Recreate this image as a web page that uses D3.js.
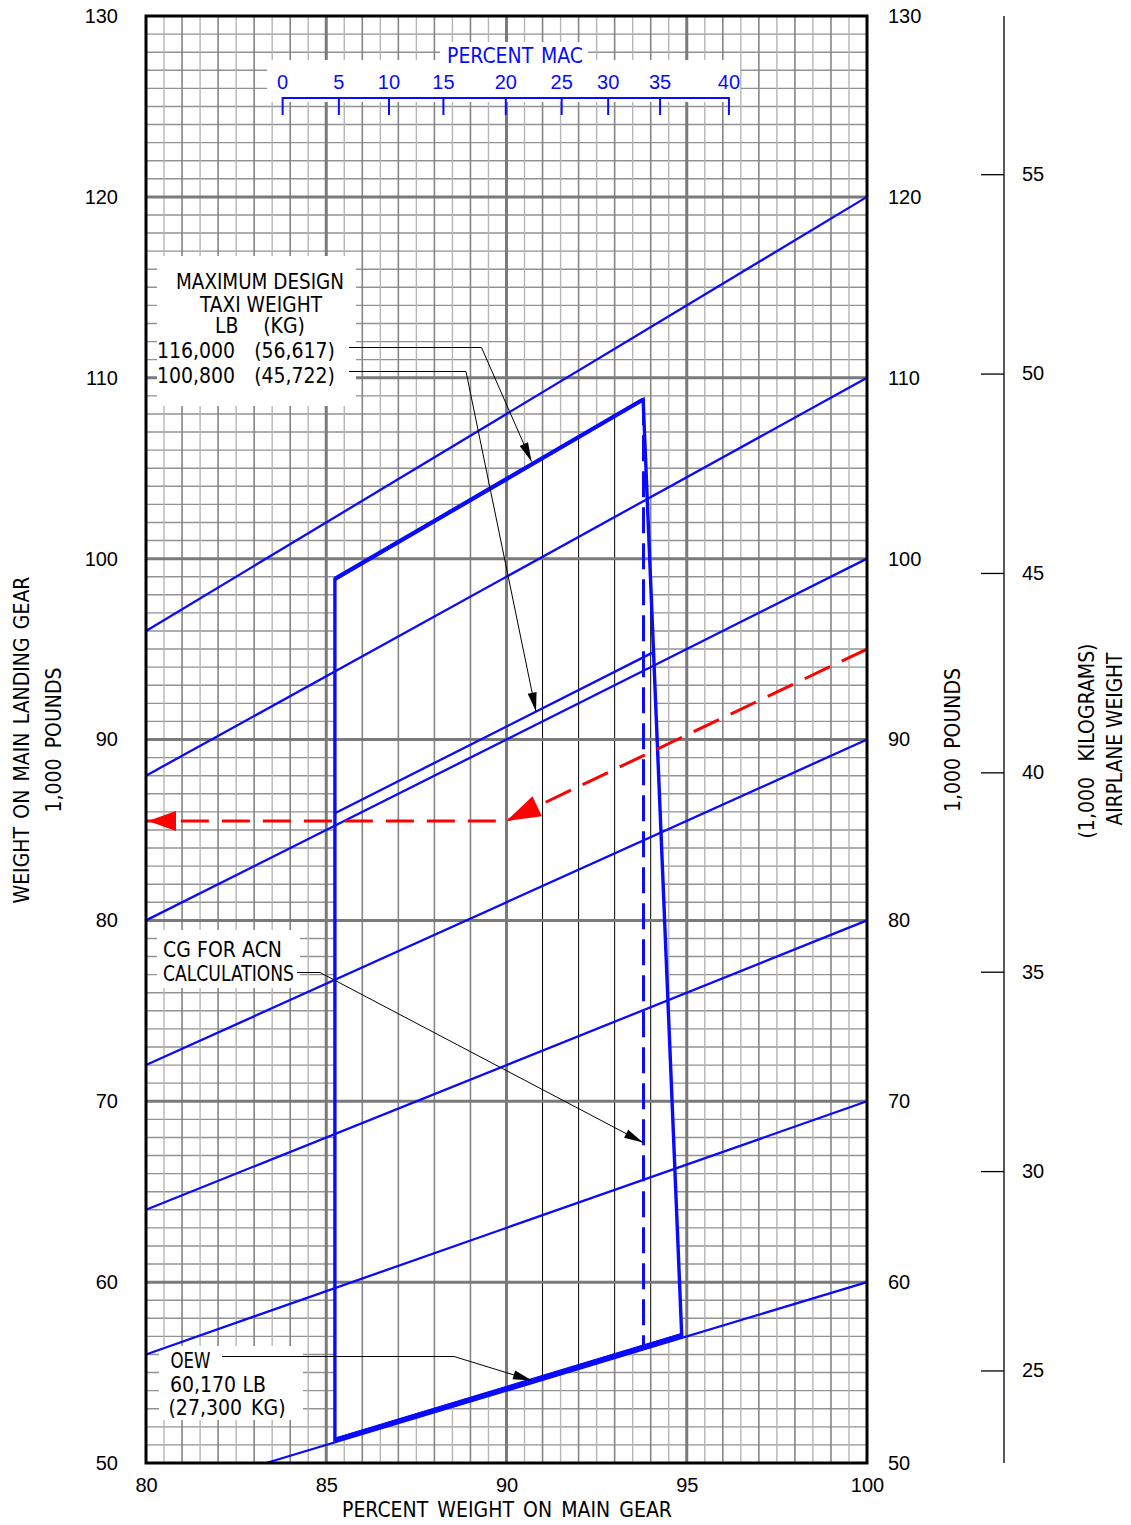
<!DOCTYPE html>
<html><head><meta charset="utf-8">
<script src="https://cdn.jsdelivr.net/npm/d3@7"></script>
<style>
body{margin:0;background:#fff;}
svg text{font-family:"Liberation Sans","DejaVu Sans",sans-serif;font-size:20px;fill:#000;}
svg text.lbl{font-family:"Liberation Sans Narrow","DejaVu Sans Condensed","Liberation Sans",sans-serif;font-size:21px;}
</style></head><body>
<svg id="chart" width="1131" height="1525"></svg>
<script>
// ---------- data ----------
const xTicks = [80, 85, 90, 95, 100];
const yTicks = [50, 60, 70, 80, 90, 100, 110, 120, 130];
const kgTicks = [25, 30, 35, 40, 45, 50, 55];
const airplaneWeights = [60, 70, 80, 90, 100, 110, 120];   // 1,000 lb
const taxiWeights = [116.0, 100.8];                          // 1,000 lb
const oewWeight = 60.17;                                     // 1,000 lb
const fwdLimit = 85.24;       // % on main gear
const aftLimitTop = 93.79;    // at 116,000 lb
const aftLimitOEW = 94.86;    // at OEW
const acnCG = 93.8;
const exampleWeight = 95;     // red example
const exampleCG = 90;
const macValues = [0, 5, 10, 15, 20, 25, 30, 35, 40];
const macPosition = [83.79, 85.35, 86.74, 88.25, 89.98, 91.53, 92.82, 94.26, 96.17];
const innerGray = [86, 87, 88, 89];
const innerBlack = [91, 92, 93, 94];
const LB_PER_KG = 2.20462;

// ---------- setup ----------
const svg = d3.select("#chart");
const L = 146, R = 867, T = 16, B = 1463;
const x = d3.scaleLinear().domain([80, 100]).range([L, R]);
const y = d3.scaleLinear().domain([50, 130]).range([B, T]);
const yKg = d3.scaleLinear().domain([50 / LB_PER_KG, 130 / LB_PER_KG]).range([B, T]);
const BLUE = "#0a0aff", RED = "#ff0000";
const line = d3.line().x(d => x(d[0])).y(d => y(d[1]));

// ---------- grid ----------
const grid = svg.append("g");
d3.range(51, 130, 1).forEach(v => {
  if (v % 10 === 0) return;
  grid.append("line").attr("x1", L).attr("x2", R).attr("y1", y(v)).attr("y2", y(v))
    .attr("stroke", "#929292").attr("stroke-width", 1.4);
});
d3.range(80.5, 100, 0.5).forEach(v => {
  if (v % 5 === 0) return;
  const isInt = Number.isInteger(v);
  grid.append("line").attr("x1", x(v)).attr("x2", x(v)).attr("y1", T).attr("y2", B)
    .attr("stroke", isInt ? "#858585" : "#b5b5b5").attr("stroke-width", isInt ? 1.6 : 1.4);
});

// envelope white fill
const envelope = [
  [fwdLimit, fwdLimit * oewWeight / 100],
  [fwdLimit, fwdLimit * taxiWeights[0] / 100],
  [aftLimitTop, aftLimitTop * taxiWeights[0] / 100],
  [aftLimitOEW, aftLimitOEW * oewWeight / 100]
];
svg.append("defs").append("clipPath").attr("id", "envClip")
  .append("path").attr("d", line(envelope) + "Z");
svg.append("path").attr("d", line(envelope) + "Z").attr("fill", "#fff");

const inner = svg.append("g").attr("clip-path", "url(#envClip)");
innerGray.forEach(v => inner.append("line").attr("x1", x(v)).attr("x2", x(v)).attr("y1", T).attr("y2", B)
  .attr("stroke", "#858585").attr("stroke-width", 1.6));
innerBlack.forEach(v => inner.append("line").attr("x1", x(v)).attr("x2", x(v)).attr("y1", T).attr("y2", B)
  .attr("stroke", "#000").attr("stroke-width", 1));

// major grid
const major = svg.append("g");
d3.range(60, 130, 10).forEach(v => major.append("line").attr("x1", L).attr("x2", R)
  .attr("y1", y(v)).attr("y2", y(v)).attr("stroke", "#7a7a7a").attr("stroke-width", 3));
[85, 90, 95].forEach(v => major.append("line").attr("x1", x(v)).attr("x2", x(v))
  .attr("y1", T).attr("y2", B).attr("stroke", "#7a7a7a").attr("stroke-width", 3));

// white label boxes
const boxes = [[157, 256, 356, 406], [440, 42, 588, 62], [267, 60, 740, 102], [157, 930, 300, 988], [159, 1346, 303, 1420]];
boxes.forEach(b => svg.append("rect").attr("x", b[0]).attr("y", b[1]).attr("width", b[2] - b[0])
  .attr("height", b[3] - b[1]).attr("fill", "#fff"));

// ---------- blue weight lines ----------
const lines = svg.append("g").attr("fill", "none").attr("stroke", BLUE);
airplaneWeights.forEach(W => {
  const x0 = Math.max(80, 5000 / W);
  lines.append("path").attr("d", line([[x0, x0 * W / 100], [100, W]])).attr("stroke-width", 2.3);
});
function edgeX(W) {
  const [p1, p2] = [envelope[2], envelope[3]];
  const dx = p2[0] - p1[0], dy = p2[1] - p1[1];
  const t = (p1[0] * W / 100 - p1[1]) / (dy - dx * W / 100);
  return p1[0] + t * dx;
}
const xe = edgeX(taxiWeights[1]);
lines.append("path").attr("d", line([[fwdLimit, fwdLimit * taxiWeights[1] / 100], [xe, xe * taxiWeights[1] / 100]]))
  .attr("stroke-width", 2.3);
// envelope
lines.append("path").attr("d", line(envelope) + "Z").attr("stroke-width", 3.4).attr("stroke-linejoin", "miter");
lines.append("path").attr("d", line([envelope[1], envelope[2]])).attr("stroke-width", 4.2);
lines.append("path").attr("d", line([envelope[0], envelope[3]])).attr("stroke-width", 4.2);
// CG for ACN dashed
lines.append("path").attr("d", line([[acnCG, acnCG * taxiWeights[0] / 100], [acnCG, acnCG * oewWeight / 100]]))
  .attr("stroke-width", 3).attr("stroke-dasharray", "26,10");

// ---------- red example ----------
const red = svg.append("g");
const redPts = [[100, exampleWeight], [exampleCG, exampleCG * exampleWeight / 100], [80, exampleCG * exampleWeight / 100]];
red.append("path").attr("d", line(redPts)).attr("fill", "none").attr("stroke", RED)
  .attr("stroke-width", 3).attr("stroke-dasharray", "28,13");
function arrowHead(g, tip, from, len, hw, color) {
  const dx = tip[0] - from[0], dy = tip[1] - from[1];
  const d = Math.hypot(dx, dy), ux = dx / d, uy = dy / d;
  const bx = tip[0] - ux * len, by = tip[1] - uy * len;
  g.append("path").attr("d", `M${tip[0]},${tip[1]}L${bx - uy * hw},${by + ux * hw}L${bx + uy * hw},${by - ux * hw}Z`)
    .attr("fill", color).attr("stroke", "none");
}
arrowHead(red, [x(redPts[1][0]), y(redPts[1][1])], [x(redPts[0][0]), y(redPts[0][1])], 34, 11, RED);
arrowHead(red, [x(80) + 2, y(redPts[2][1])], [x(90), y(redPts[2][1])], 28, 10, RED);

// ---------- leaders ----------
const lead = svg.append("g");
const leaders = [
  [[349, 347.5], [481.5, 347.5], [531.5, 461.5]],
  [[349, 371.5], [466, 371.5], [536, 711.5]],
  [[297, 972.5], [320, 972.5], [643, 1142.5]],
  [[222, 1356.5], [454, 1356.5], [532, 1380.5]]
];
leaders.forEach(p => {
  lead.append("path").attr("d", d3.line()(p)).attr("fill", "none").attr("stroke", "#000").attr("stroke-width", 1);
  arrowHead(lead, p[2], p[1], 19, 4.5, "#000");
});

// ---------- frame ----------
svg.append("rect").attr("x", L).attr("y", T).attr("width", R - L).attr("height", B - T)
  .attr("fill", "none").attr("stroke", "#000").attr("stroke-width", 3);

// ---------- axes ----------
const ax = svg.append("g");
ax.append("g").attr("transform", `translate(0,${B})`)
  .call(d3.axisBottom(x).tickValues(xTicks).tickSize(0).tickPadding(15).tickFormat(d3.format("d")))
  .call(g => g.select(".domain").remove());
ax.append("g").attr("transform", `translate(${L},0)`)
  .call(d3.axisLeft(y).tickValues(yTicks).tickSize(0).tickPadding(28))
  .call(g => g.select(".domain").remove());
ax.append("g").attr("transform", `translate(${R},0)`)
  .call(d3.axisRight(y).tickValues(yTicks).tickSize(0).tickPadding(21))
  .call(g => g.select(".domain").remove());
const kgAxis = ax.append("g").attr("transform", "translate(1004,0)")
  .call(d3.axisLeft(yKg).tickValues(kgTicks).tickSize(23).tickSizeOuter(0));
kgAxis.select(".domain").attr("d", `M0,${T}V${B}`).attr("stroke", "#000").attr("stroke-width", 1.3);
kgAxis.selectAll(".tick line").attr("stroke", "#000").attr("stroke-width", 1.3);
kgAxis.selectAll(".tick text").attr("x", 18).attr("text-anchor", "start");

// ---------- MAC scale ----------
const mac = svg.append("g");
mac.append("line").attr("x1", x(macPosition[0])).attr("x2", x(macPosition[macPosition.length - 1]))
  .attr("y1", 98).attr("y2", 98).attr("stroke", BLUE).attr("stroke-width", 2);
macValues.forEach((v, i) => {
  mac.append("line").attr("x1", x(macPosition[i])).attr("x2", x(macPosition[i]))
    .attr("y1", 97).attr("y2", 115).attr("stroke", BLUE).attr("stroke-width", 2);
  mac.append("text").attr("x", x(macPosition[i])).attr("y", 89).attr("text-anchor", "middle")
    .style("fill", BLUE).text(v);
});

// ---------- texts ----------
function txt(s, xx, yy, len, opts = {}) {
  const t = svg.append("text").attr("class", "lbl").attr("x", xx).attr("y", yy).text(s);
  if (opts.color) t.style("fill", opts.color);
  if (opts.rotate) t.attr("transform", `rotate(-90,${xx},${yy})`).attr("text-anchor", "middle");
  const w = t.node().getComputedTextLength();
  const gaps = (s.match(/ /g) || []).length;
  if (gaps > 0 && w < len) {
    t.style("word-spacing", ((len - w) / gaps) + "px");
  } else if (Math.abs(w - len) > 1) {
    t.attr("textLength", len).attr("lengthAdjust", "spacingAndGlyphs");
  }
  return t;
}
txt("PERCENT MAC", 447, 63, 136, {color: BLUE});
txt("PERCENT WEIGHT ON MAIN GEAR", 342, 1517, 330);
txt("WEIGHT ON MAIN LANDING GEAR", 29, 740, 327, {rotate: true});
txt("1,000 POUNDS", 61, 740, 145, {rotate: true});
txt("1,000 POUNDS", 960, 740, 144, {rotate: true});
txt("(1,000 KILOGRAMS)", 1094, 741, 195, {rotate: true});
txt("AIRPLANE WEIGHT", 1122, 739, 173, {rotate: true});
txt("MAXIMUM DESIGN", 176, 289, 168);
txt("TAXI WEIGHT", 200, 312, 122);
txt("LB (KG)", 215, 333, 90);
txt("116,000 (56,617)", 157, 358, 178);
txt("100,800 (45,722)", 157, 383, 178);
txt("CG FOR ACN", 163, 957, 119);
txt("CALCULATIONS", 163, 981, 131);
txt("OEW", 170.5, 1368, 40);
txt("60,170 LB", 170, 1392, 96);
txt("(27,300 KG)", 168.5, 1415, 117);
</script>
</body></html>
